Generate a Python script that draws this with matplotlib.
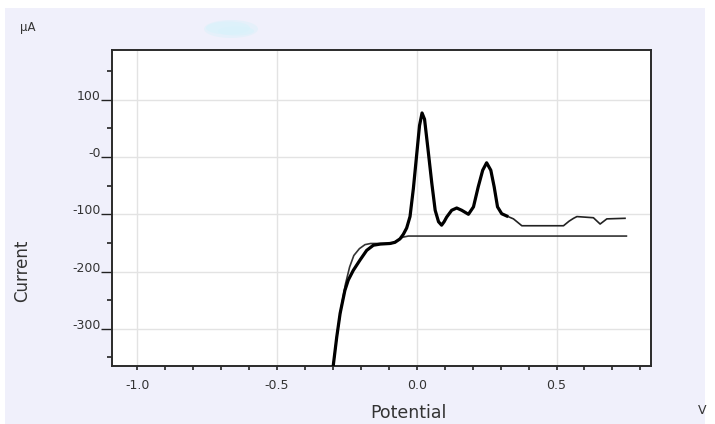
import matplotlib
matplotlib.use("Agg")
import matplotlib.pyplot as plt
from matplotlib.patches import Rectangle, Ellipse
from matplotlib.ticker import MultipleLocator, FixedLocator
import numpy as np

# Measured voltammogram (V, µA)
potential = [-0.299, -0.286, -0.274, -0.257, -0.245, -0.227, -0.203, -0.179, -0.155, -0.130,
             -0.096, -0.078, -0.060, -0.048, -0.036, -0.024, -0.012, 0.000, 0.010, 0.019,
             0.028, 0.040, 0.054, 0.066, 0.078, 0.089, 0.098, 0.107, 0.125, 0.143,
             0.161, 0.185, 0.203, 0.220, 0.236, 0.250, 0.265, 0.277, 0.289, 0.304,
             0.322, 0.346, 0.376, 0.525, 0.545, 0.561, 0.573, 0.632, 0.656, 0.680, 0.745]
current = [-366, -314, -273, -233, -215, -198, -180, -163, -154, -152,
           -151, -149, -143, -135, -124, -104, -55, 5, 55, 77,
           66, 15, -46, -93, -113, -119, -113, -105, -93, -89,
           -93, -100, -87, -52, -23, -10, -23, -52, -87, -99,
           -103, -108, -120, -120, -112, -107, -104, -106, -117, -108, -107]

# Baseline under the peaks (V, µA)
base_potential = [-0.299, -0.286, -0.270, -0.255, -0.240, -0.225, -0.205, -0.185, -0.165,
                  -0.090, -0.070, -0.050, -0.030, 0.750]
base_current = [-366, -314, -262, -222, -192, -172, -160, -153, -151,
                -151, -146, -140, -138, -138]

x_major = [-1.0, -0.5, 0.0, 0.5]
x_labels = ["-1.0", "-0.5", "0.0", "0.5"]
y_major = [-300, -200, -100, 0, 100]
y_labels = ["-300", "-200", "-100", "-0", "100"]

peak_region_end = 0.322

W, H = 715, 424
fig = plt.figure(figsize=(W / 100, H / 100), dpi=100, facecolor="white")
plt.rcParams["font.family"] = ["DejaVu Sans"]

# lavender panel behind the plot
fig.patches.append(Rectangle((5 / W, 0), 700 / W, (H - 8) / H, transform=fig.transFigure,
                             facecolor="#F0F0FB", edgecolor="none", zorder=-10))
# faint washed-out title patch
for (cx, cy, w, h, a) in [(231, 29, 54, 18, 0.45), (228, 28, 44, 13, 0.6), (236, 31, 36, 9, 0.6)]:
    fig.patches.append(Ellipse((cx / W, (H - cy) / H), w / W, h / H, transform=fig.transFigure,
                               facecolor="#D8F2FA", edgecolor="none", alpha=a, zorder=-5))

left, right, top, bottom = 112, 651, 50, 366
ax = fig.add_axes([left / W, (H - bottom) / H, (right - left) / W, (bottom - top) / H])
ax.set_facecolor("white")

ax.set_xlim(-1.09, 0.838)
ax.set_ylim(-365, 187)

ax.xaxis.set_major_locator(FixedLocator(x_major))
ax.set_xticklabels(x_labels)
ax.xaxis.set_minor_locator(MultipleLocator(0.1))
ax.yaxis.set_major_locator(FixedLocator(y_major))
ax.set_yticklabels(y_labels)
ax.yaxis.set_minor_locator(FixedLocator([-350, -250, -150, -50, 50, 150]))

ax.grid(True, which="major", color="#E3E3E3", linewidth=1.0, zorder=0)
ax.set_axisbelow(True)

ax.tick_params(axis="x", which="both", direction="out", length=3, width=1.2,
               color="#222222", labelsize=9, labelcolor="#333333", pad=6.5)
ax.tick_params(axis="y", which="major", direction="out", length=8, width=1.0,
               color="#222222", labelsize=9, labelcolor="#333333", pad=0)
ax.tick_params(axis="y", which="minor", direction="out", length=3.3, width=1.2,
               color="#222222")
for lbl in ax.get_yticklabels():
    lbl.set_verticalalignment("baseline")

for side in ["left", "bottom", "top", "right"]:
    ax.spines[side].set_color("#2A2A2A")
    ax.spines[side].set_linewidth(1.4)

pot = np.array(potential)
cur = np.array(current)
thick = pot <= peak_region_end

ax.plot(base_potential, base_current, color="#333333", linewidth=1.2, zorder=3)
ax.plot(pot, cur, color="#222222", linewidth=1.2, zorder=4)
ax.plot(pot[thick], cur[thick], color="black", linewidth=2.3, zorder=5)

fig.text(28 / W, (H - 27) / H, "µA", fontsize=8.5, color="#333333", ha="center", va="center")
fig.text(22 / W, (H - 271) / H, "Current", fontsize=12, color="#333333",
         rotation=90, ha="center", va="center")
fig.text(408 / W, (H - 413) / H, "Potential", fontsize=12.5, color="#333333",
         ha="center", va="center")
fig.text(702 / W, (H - 411) / H, "V", fontsize=9, color="#333333", ha="center", va="center")

fig.savefig("out.png", dpi=100, facecolor=fig.get_facecolor())
